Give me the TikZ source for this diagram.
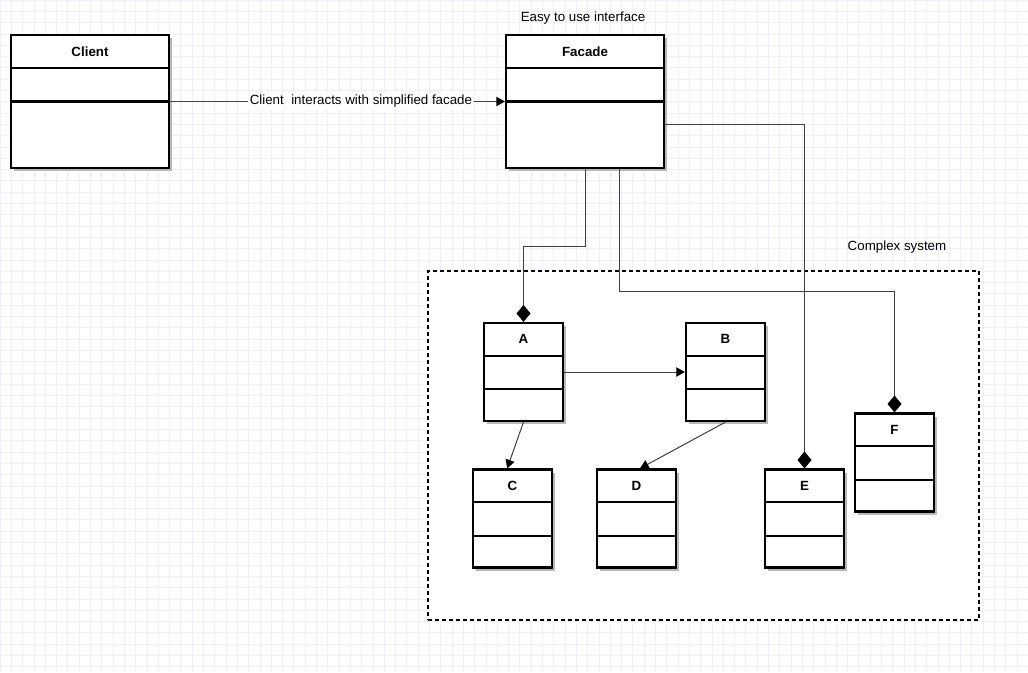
\documentclass[tikz,border=0pt]{standalone}
\usepackage{fontspec}
\setmainfont{Liberation Sans}
\usetikzlibrary{arrows.meta,calc,shadows}

\begin{document}
\begin{tikzpicture}[x=0.75pt,y=-0.75pt,font=\fontsize{10}{12}\selectfont]
  \tikzset{cls/.style={draw, line width=1.6pt, fill=white, inner sep=0pt,
      minimum width=59.25pt, minimum height=73.5pt,
      drop shadow={shadow xshift=2.25pt, shadow yshift=-2.25pt, fill=black!28, opacity=1}},
    big/.style={cls, minimum width=118.5pt, minimum height=99.75pt},
    title/.style={anchor=center, yshift=-13pt, font=\fontsize{10}{12}\selectfont\bfseries},
    divider/.style={line width=1.6pt},
    assoc/.style={draw=black!75, line width=0.75pt, -{Triangle[length=6.5pt,width=7pt,color=black]}},
    comp/.style={draw=black!75, line width=0.75pt, -{Diamond[length=12.75pt,width=10.5pt,color=black]}},
    note/.style={inner sep=1pt},
    gridline/.style={draw={rgb,255:red,238;green,238;blue,253}, line width=0.6pt}}
  \useasboundingbox (0,0) rectangle (1028,672);
  \draw[gridline, step=8.475pt] (0,0) grid (1028,672);

  % the complex system
  \node[draw, fill=white, line width=1.5pt, dash pattern=on 3pt off 2.25pt,
    minimum width=413.25pt, minimum height=261.75pt] (system) at (703.5,445.5) {};
  \node[note] (systemnote) at (897,247) {Complex system};

  % classes
  \node[big, label={[title]north:Client}] (client) at (90,101.5) {};
  \node[big, label={[title]north:Facade}] (facade) at (585,101.5) {};
  \node[note] (facadenote) at (583,18) {Easy to use interface};
  \node[cls, label={[title]north:A}] (a) at (523.5,372) {};
  \node[cls, label={[title]north:B}] (b) at (725.5,372) {};
  \node[cls, label={[title]north:C}] (c) at (512.5,518.5) {};
  \node[cls, label={[title]north:D}] (d) at (636.5,518.5) {};
  \node[cls, label={[title]north:E}] (e) at (804.5,518.5) {};
  \node[cls, label={[title]north:F}] (f) at (894.5,462.5) {};

  \foreach \n in {client,facade}
    \foreach \f in {0.25,0.5}
      \draw[divider] ($(\n.north west)!\f!(\n.south west)$) -- ($(\n.north east)!\f!(\n.south east)$);
  \foreach \n in {a,b,c,d,e,f}
    \foreach \f in {0.337,0.673}
      \draw[divider] ($(\n.north west)!\f!(\n.south west)$) -- ($(\n.north east)!\f!(\n.south east)$);

  % connectors
  \draw[assoc] (client.east) -- node[pos=0.57, fill=white, inner sep=1.5pt]
    {Client\ \ interacts with simplified facade} (facade.west);
  \draw[comp] (facade.south) -- ++(0,77) -| (a.north);
  \draw[comp] ([xshift=25.5pt]facade.south) -- ++(0,122) -| (f.north);
  \draw[comp] ([yshift=-17.6pt]facade.east) -| (e.north);
  \draw[assoc] (a.east) -- (b.west);
  \draw[assoc] (a.south) -- ([xshift=-4pt]c.north);
  \draw[assoc] (b.south) -- ([xshift=2.6pt]d.north);
\end{tikzpicture}
\end{document}
